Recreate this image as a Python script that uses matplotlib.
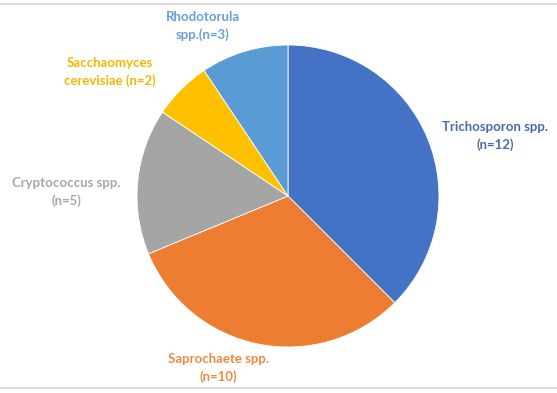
import matplotlib.pyplot as plt
from matplotlib.lines import Line2D

labels = ["Trichosporon spp.\n(n=12)", "Saprochaete spp.\n(n=10)", "Cryptococcus spp.\n(n=5)",
          "Sacchaomyces\ncerevisiae (n=2)", "Rhodotorula\nspp.(n=3)"]
counts = [12, 10, 5, 2, 3]
colors = ["#4472C4", "#ED7D31", "#A5A5A5", "#FFC000", "#5B9BD5"]
label_colors = ["#4A6AB0", "#EE8A45", "#A8A8A8", "#F5B800", "#6A9FD6"]
# label centres in pixels (x, y from top)
label_pos = [(495, 136), (218, 368), (66, 192), (110, 72), (203, 26)]

W, H = 557, 393
fig = plt.figure(figsize=(W / 100, H / 100), dpi=100)
fig.patch.set_facecolor("white")

cx, cy, r = 288, 196, 151
ax = fig.add_axes([(cx - r) / W, (H - cy - r) / H, 2 * r / W, 2 * r / H])
ax.pie(counts, colors=colors, startangle=90, counterclock=False, radius=1,
       wedgeprops=dict(linewidth=0.6, edgecolor="white"))
ax.set_xlim(-1, 1)
ax.set_ylim(-1, 1)
ax.set_aspect("equal")
ax.axis("off")

for text, col, (x, y) in zip(labels, label_colors, label_pos):
    fig.text(x / W, 1 - y / H, text, color=col, ha="center", va="center",
             fontsize=9.5, fontweight="bold", family="Lato", linespacing=1.45)

# thin border lines at top and bottom
for yy in (4, 388):
    fig.add_artist(Line2D([0, 1], [1 - yy / H] * 2, color="#DCDCDC", lw=1.5,
                          transform=fig.transFigure))

fig.savefig("out.png", dpi=100)
